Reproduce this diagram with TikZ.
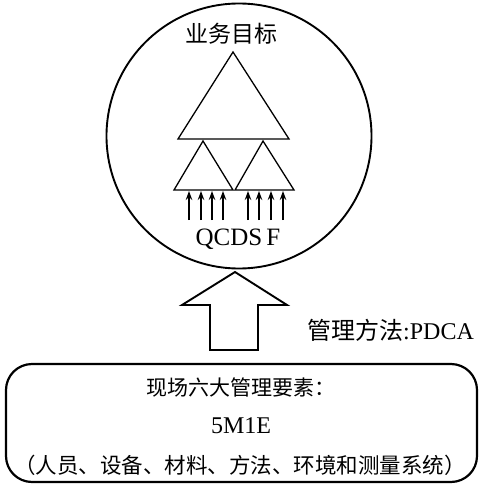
\documentclass[tikz,border=0pt]{standalone}
\usepackage{fontspec}
\setmainfont{Liberation Serif}
\newfontfamily\cjk{Noto Sans CJK SC}
\usetikzlibrary{arrows.meta}
\begin{document}
\begin{tikzpicture}[x=1pt,y=-1pt,
  outline/.style={draw=black,line width=1.9pt},
  thin/.style={draw=black,line width=1.3pt,line join=miter},
  upar/.style={draw=black,line width=1.2pt,-{Stealth[length=9pt,width=6.5pt]}},
  cjktxt/.style={inner sep=0pt,font=\cjk\fontsize{21}{24}\selectfont},
  lattxt/.style={inner sep=0pt,font=\fontsize{25}{28}\selectfont}]
\useasboundingbox (0,0) rectangle (480,484);
% circle
\node[outline,circle,minimum size=265pt,inner sep=0pt] (goal) at (239,136) {};
\node[cjktxt,font=\cjk\fontsize{23}{26}\selectfont] (title) at (231,34) {业务目标};
% triangles
\draw[thin] (233,52) -- (178,139) -- (289,139) -- cycle;
\draw[thin] (203,141) -- (174,190) -- (233,190) -- cycle;
\draw[thin] (263,141) -- (235,190) -- (294,190) -- cycle;
% small arrows
\foreach \i/\xx in {1/189,2/201,3/212,4/223,5/248,6/259,7/271,8/283}{
  \coordinate (s\i) at (\xx,220);
  \coordinate (e\i) at (\xx,191);
  \draw[upar] (s\i) -- (e\i);
}
\node[lattxt] (q) at (238,239) {QCDS\,F};
% block arrow
\coordinate (tip) at (235,272);
\draw[outline,line join=miter] (tip) -- (182,305) -- (210,305) -- (210,350) -- (258,350) -- (258,305) -- (287,305) -- cycle;
\node[inner sep=0pt,anchor=west] (pdca) at (307,330) {{\cjk\fontsize{24}{26}\selectfont 管理方法}{\fontsize{24}{26}\selectfont :PDCA}};
% bottom box
\draw[outline,line width=2.2pt,rounded corners=26pt] (6,364) rectangle (477,482);
\node[cjktxt] (l1) at (241,388) {现场六大管理要素：};
\node[lattxt,font=\fontsize{24}{26}\selectfont] (l2) at (241,426) {5M1E};
\node[cjktxt,font=\cjk\fontsize{21.5}{24}\selectfont] (l3) at (240,465) {（人员、设备、材料、方法、环境和测量系统）};
\end{tikzpicture}
\end{document}
